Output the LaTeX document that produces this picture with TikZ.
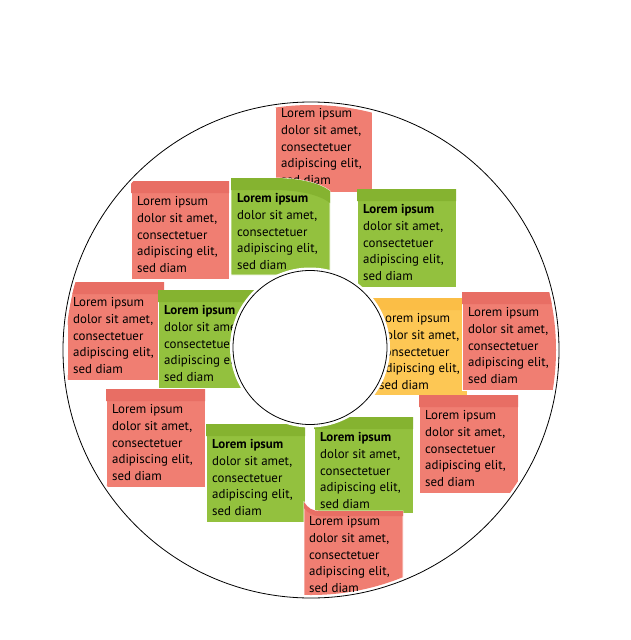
\documentclass[tikz,border=0pt]{standalone}
\usepackage{fontspec}
\setmainfont{PT Sans}
\definecolor{redbody}{RGB}{240,126,114}
\definecolor{redstrip}{RGB}{232,110,100}
\definecolor{greenbody}{RGB}{147,193,62}
\definecolor{greenstrip}{RGB}{133,179,48}
\definecolor{yellowbody}{RGB}{253,199,84}
\definecolor{yellowstrip}{RGB}{251,190,70}
\tikzset{
  notetext/.style={anchor=north west, inner sep=0pt, align=left,
    font=\fontsize{12.9}{16.7}\selectfont, text=black},
  notefill/.style={draw=white, line width=0.8pt},
  ringline/.style={draw=black, line width=0.8pt}
}
\newcommand\notelines[1]{#1{Lorem ipsum}\\dolor sit amet,\\consectetuer\\adipiscing elit,\\sed diam}
% #1 name, #2 x, #3 y (top-left), #4 width, #5 height, #6 colour kind,
% #7 first-line format, #8 drop of the curled top-right corner
\newcommand\stickynote[8]{%
  \fill[#6body, notefill]
    (#2,#3) -- ({#2+0.42*#4},#3)
    .. controls ({#2+0.7*#4},#3) and ({#2+0.9*#4},{#3+0.4*#8}) .. ({#2+#4},{#3+#8})
    -- ({#2+#4},{#3+#5}) -- (#2,{#3+#5}) -- cycle;
  \fill[#6strip]
    (#2,#3) -- ({#2+0.42*#4},#3)
    .. controls ({#2+0.7*#4},#3) and ({#2+0.9*#4},{#3+0.4*#8}) .. ({#2+#4},{#3+#8})
    -- ({#2+#4},{#3+#8+12})
    .. controls ({#2+0.9*#4},{#3+0.4*#8+12}) and ({#2+0.7*#4},{#3+12}) .. ({#2+0.42*#4},{#3+12})
    -- (#2,{#3+12}) -- cycle;
  \node[notetext] (#1) at ({#2+6},{#3+15.5}) {\notelines{#7}};
}
\begin{document}
\begin{tikzpicture}[x=1pt, y=-1pt]
  \useasboundingbox (0,0) rectangle (630,640);
  \coordinate (c) at (311,350);
  \coordinate (ci) at (310,347.5);
  \begin{scope}
    \clip (c) circle (245pt);
    \stickynote{n1}{275}{93}{97}{99}{red}{}{0}
    \stickynote{n2}{131}{181}{98}{98}{red}{}{0}
    \stickynote{n3}{231}{178}{99}{97}{green}{\bfseries}{13}
    \stickynote{n4}{357}{189}{99}{98}{green}{\bfseries}{0}
    \stickynote{n5}{67}{282}{97}{98}{red}{}{0}
    \stickynote{n6}{158}{290}{99}{98}{green}{\bfseries}{0}
    \stickynote{n7}{373}{298}{94}{97}{yellow}{}{0}
    \stickynote{n8}{462}{292}{96}{98}{red}{}{0}
    \stickynote{n9}{106}{389}{99}{98}{red}{}{0}
    \stickynote{n10}{206}{424}{99}{98}{green}{\bfseries}{0}
    \stickynote{n11}{314}{417}{99}{96}{green}{\bfseries}{0}
    \stickynote{n12}{419}{395}{99}{98}{red}{}{0}
    % bottom note, its top-left corner curled up
    \fill[redbody, notefill] (304,502) .. controls (308,508) and (312,511) .. (320,511)
      -- (403,511) -- (403,604) -- (304,604) -- cycle;
    \fill[redstrip] (304,502) .. controls (308,508) and (312,511) .. (320,511)
      -- (403,511) -- (403,516) -- (320,516) .. controls (312,516) and (308,513) .. (304,508) -- cycle;
    \node[notetext] (n13) at (309,516.5) {\notelines{}};
  \end{scope}
  \draw[ringline] (c) circle (248pt);
  \fill[white] (ci) circle (80pt);
  \draw[ringline] (ci) circle (77pt);
\end{tikzpicture}
\end{document}
